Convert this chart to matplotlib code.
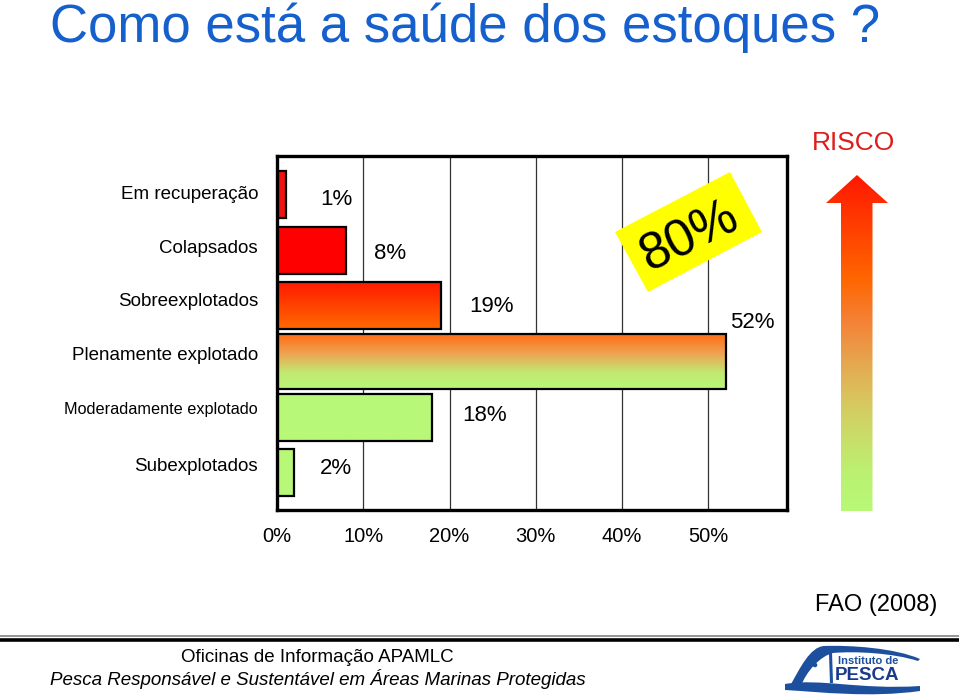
import numpy as np
import matplotlib.pyplot as plt
from matplotlib.colors import LinearSegmentedColormap
from matplotlib.patches import Polygon, PathPatch, Circle
from matplotlib.path import Path
from matplotlib import font_manager

plt.rcParams['font.family'] = ['Liberation Sans', 'DejaVu Sans']

# data
categories = ['Em recuperação', 'Colapsados', 'Sobreexplotados',
              'Plenamente explotado', 'Moderadamente explotado', 'Subexplotados']
shares = [1, 8, 19, 52, 18, 2]
tick_values = [0, 10, 20, 30, 40, 50]
tick_labels = ['0%', '10%', '20%', '30%', '40%', '50%']
at_risk = shares[:4]   # the four groups summed in the yellow box

# styling
bar_colors = [
    ['#f01212', '#f01212'],
    ['#ff0000', '#ff0000'],
    ['#ff1800', '#ff6a00'],
    [(0, '#ff6a10'), (0.35, '#f0a050'), (0.7, '#c2e870'), (1, '#b8f878')],
    ['#b8f878', '#b8f878'],
    ['#b8f878', '#b8f878'],
]
bar_heights = [0.845, 0.845, 0.845, 0.99, 0.845, 0.845]
cat_dy = [0.0, -0.02, -0.07, -0.1, -0.13, -0.12]
cat_size = [13.5, 13.5, 13.5, 13.5, 11.7, 13.5]
lab_dx = [5.84, 5.06, 5.8, 3.1, 6.0, 4.84]
lab_dy = [0.1, 0.07, 0.01, -0.69, -0.02, -0.07]

names = {f.name for f in font_manager.fontManager.ttflist}
if 'Liberation Sans Narrow' in names:
    foot_font, foot_size = 'Liberation Sans Narrow', 16.5
else:
    foot_font, foot_size = 'Liberation Sans', 13.5

W, H = 959, 696
fig = plt.figure(figsize=(W / 100, H / 100), dpi=100)


def vgrad(axis, colors, extent, z=2):
    cmap = LinearSegmentedColormap.from_list('g', colors)
    grad = np.linspace(0, 1, 256).reshape(-1, 1)
    return axis.imshow(grad, cmap=cmap, aspect='auto', extent=extent,
                       zorder=z, interpolation='bilinear')


# main bar chart
ax = fig.add_axes([277 / W, 1 - 510 / H, 510 / W, 354 / H])
ypos = np.arange(len(categories))
for i, v in enumerate(shares):
    h = bar_heights[i]
    vgrad(ax, bar_colors[i], (0, v, i + h / 2, i - h / 2))
ax.barh(ypos, shares, height=bar_heights, fill=False, edgecolor='black',
        linewidth=1.6, zorder=3)

for i, v in enumerate(shares):
    ax.text(v + lab_dx[i], i + lab_dy[i], f'{v}%', fontsize=16,
            ha='center', va='center', zorder=4)
    ax.text(-2.2, i + cat_dy[i], categories[i], fontsize=cat_size[i],
            ha='right', va='center', clip_on=False)

ax.set_xlim(0, 59.1)
ax.set_ylim(5.67, -0.69)
ax.set_xticks(tick_values)
ax.set_xticklabels(tick_labels, fontsize=14.5)
ax.tick_params(axis='x', length=0, pad=12)
ax.set_yticks([])
ax.grid(axis='x', color='#333333', linewidth=0.9)
ax.set_axisbelow(True)
for s in ax.spines.values():
    s.set_linewidth(2.4)
    s.set_color('black')

# overlay in pixel coordinates for the slide decorations
ov = fig.add_axes([0, 0, 1, 1], zorder=5)
ov.axis('off')

# risk arrow with gradient
arrow = Polygon([(841, 511), (841, 203), (826, 203), (857, 175),
                 (888, 203), (872.5, 203), (872.5, 511)],
                closed=True, facecolor='none', edgecolor='none')
ov.add_patch(arrow)
im = vgrad(ov, [(0, '#ff1800'), (0.31, '#ff6600'), (0.43, '#f58035'),
                (0.59, '#e2b055'), (0.71, '#d2d062'), (0.88, '#bcf070'),
                (1, '#b8f878')], (826, 888, 511, 175))
im.set_clip_path(arrow)
ov.text(853, 143, 'RISCO', fontsize=19, color='#dd1c1c', ha='center', va='center')

# yellow 80% box
ov.add_patch(Polygon([(615, 232), (730, 172), (762, 232), (648, 292)],
                     closed=True, facecolor='#ffff00', edgecolor='none'))
ov.text(690, 237, f'{sum(at_risk)}%', fontsize=37, rotation=26,
        rotation_mode='anchor', ha='center', va='center')

# title
ov.text(50, 42, 'Como está a saúde dos estoques ?', fontsize=38,
        color='#1560cc', ha='left', va='baseline')

ov.text(876, 605, 'FAO (2008)', fontsize=17, ha='center', va='center')

# footer rules
ov.plot([0, W], [636, 636], color='#777777', linewidth=1.1)
ov.plot([0, W], [640, 640], color='black', linewidth=2.6)

ov.text(317, 657, 'Oficinas de Informação APAMLC', family=foot_font,
        fontsize=foot_size, ha='center', va='center')
ov.text(318, 679, 'Pesca Responsável e Sustentável em Áreas Marinas Protegidas',
        family=foot_font, fontsize=foot_size, style='italic',
        ha='center', va='center')

# rough Instituto de Pesca logo
logo = '#1d4f9f'
M, L, C, Z = Path.MOVETO, Path.LINETO, Path.CURVE4, Path.CLOSEPOLY
arch = Path([(790, 686), (800, 668), (810, 647), (824, 646),
             (850, 645), (895, 648), (920, 659), (918, 661),
             (893, 653), (855, 651), (833, 653),
             (820, 656), (806, 672), (801, 686), (790, 686)],
            [M, C, C, C, C, C, C, L, C, C, C, C, C, C, Z])
ov.add_patch(PathPatch(arch, facecolor=logo, edgecolor='none'))
ov.plot([830.5, 831.5], [653, 683], color=logo, linewidth=2.2,
        solid_capstyle='butt')
swoosh = Path([(785, 684), (820, 678), (860, 690), (920, 686),
               (920, 691), (870, 698), (820, 692), (785, 690), (785, 684)],
              [M, C, C, C, L, C, C, C, Z])
ov.add_patch(PathPatch(swoosh, facecolor=logo, edgecolor='none'))
ov.add_patch(Circle((815, 665), 1.6, color=logo))
ov.text(868, 661, 'Instituto de', fontsize=8, fontweight='bold',
        color=logo, ha='center', va='center')
ov.text(867, 675, 'PESCA', fontsize=13.5, fontweight='bold',
        color='#1a3a8c', ha='center', va='center')

ov.set_xlim(0, W)
ov.set_ylim(H, 0)

fig.savefig('out.png', dpi=100)
